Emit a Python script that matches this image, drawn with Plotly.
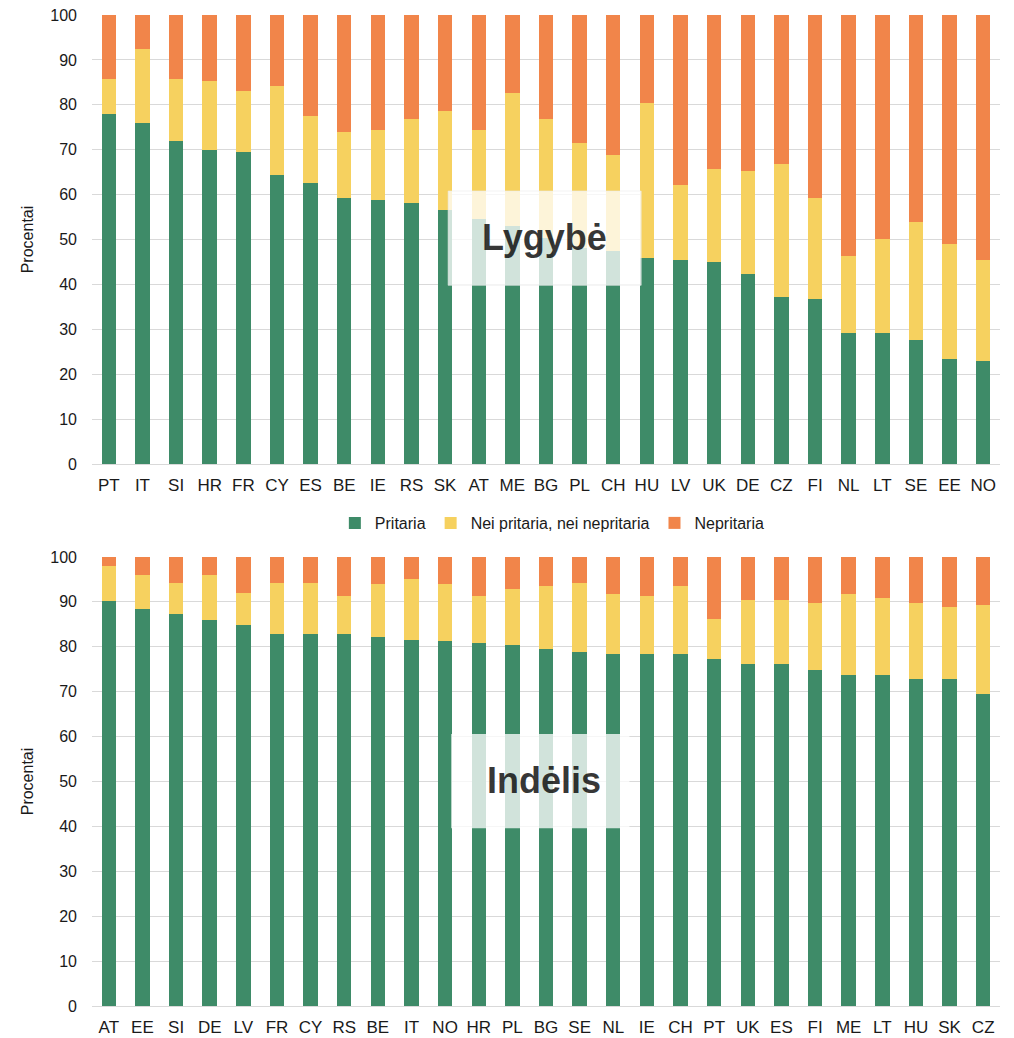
import plotly.graph_objects as go

# ---- Data: top chart "Lygybė" ----
top_countries = ["PT", "IT", "SI", "HR", "FR", "CY", "ES", "BE", "IE", "RS", "SK", "AT", "ME", "BG",
                 "PL", "CH", "HU", "LV", "UK", "DE", "CZ", "FI", "NL", "LT", "SE", "EE", "NO"]
top_pritaria = [77.9, 75.9, 71.9, 69.9, 69.5, 64.4, 62.5, 59.2, 58.8, 58.1, 56.5, 54.6, 53.0, 50.3,
                48.1, 47.4, 45.9, 45.4, 45.0, 42.3, 37.2, 36.7, 29.2, 29.2, 27.6, 23.3, 22.9]
top_nei = [7.9, 16.6, 13.9, 15.5, 13.5, 19.8, 15.0, 14.7, 15.5, 18.7, 22.1, 19.7, 29.6, 26.5,
           23.5, 21.4, 34.4, 16.7, 20.7, 22.9, 29.6, 22.6, 17.1, 21.0, 26.2, 25.7, 22.6]
top_nepritaria = [14.2, 7.5, 14.2, 14.6, 17.0, 15.8, 22.5, 26.1, 25.7, 23.2, 21.4, 25.7, 17.4, 23.2,
                  28.4, 31.2, 19.7, 37.9, 34.3, 34.8, 33.2, 40.7, 53.7, 49.8, 46.2, 51.0, 54.5]

# ---- Data: bottom chart "Indėlis" ----
bot_countries = ["AT", "EE", "SI", "DE", "LV", "FR", "CY", "RS", "BE", "IT", "NO", "HR", "PL", "BG",
                 "SE", "NL", "IE", "CH", "PT", "UK", "ES", "FI", "ME", "LT", "HU", "SK", "CZ"]
bot_pritaria = [90.3, 88.4, 87.2, 86.0, 84.8, 82.8, 82.8, 82.8, 82.1, 81.6, 81.2, 80.8, 80.4, 79.6,
                78.8, 78.4, 78.4, 78.4, 77.3, 76.1, 76.1, 74.9, 73.7, 73.7, 72.9, 72.9, 69.4]
bot_nei = [7.6, 7.6, 6.9, 10.0, 7.2, 11.3, 11.3, 8.4, 11.9, 13.6, 12.8, 10.4, 12.4, 14.0,
           15.5, 13.3, 12.8, 15.2, 8.8, 14.3, 14.3, 14.8, 18.0, 17.1, 16.8, 15.9, 19.8]
bot_nepritaria = [2.1, 4.0, 5.9, 4.0, 8.0, 5.9, 5.9, 8.8, 6.0, 4.8, 6.0, 8.8, 7.2, 6.4,
                  5.7, 8.3, 8.8, 6.4, 13.9, 9.6, 9.6, 10.3, 8.3, 9.2, 10.3, 11.2, 10.8]

series_names = ["Pritaria", "Nei pritaria, nei nepritaria", "Nepritaria"]
colors = ["#3e8b68", "#f6d15f", "#f1854a"]

FONT = "Liberation Sans, Arial, Helvetica, sans-serif"
TXT = "#1a1a1a"

fig = go.Figure()
for i, (name, vals) in enumerate(zip(series_names, [top_pritaria, top_nei, top_nepritaria])):
    fig.add_trace(go.Bar(x=top_countries, y=vals, name=name, marker=dict(color=colors[i], line=dict(width=0)),
                         xaxis="x", yaxis="y", legendgroup=name, showlegend=True))
for i, (name, vals) in enumerate(zip(series_names, [bot_pritaria, bot_nei, bot_nepritaria])):
    fig.add_trace(go.Bar(x=bot_countries, y=vals, name=name, marker=dict(color=colors[i], line=dict(width=0)),
                         xaxis="x2", yaxis="y2", legendgroup=name, showlegend=False))

yax = dict(range=[0, 100], dtick=10, showgrid=True, gridcolor="#d9d9d9", gridwidth=1.3,
           zeroline=False, showline=False, tickfont=dict(size=16, color=TXT, family=FONT),
           ticklabelstandoff=14, automargin=False, ticklabeloverflow="allow",
           title=dict(text="Procentai", font=dict(size=16, color=TXT, family=FONT), standoff=12))
xax = dict(type="category", showgrid=False, showline=True, linecolor="#d9d9d9", linewidth=1.3,
           tickfont=dict(size=17, color=TXT, family=FONT), ticklabelstandoff=5, range=[-0.5, 26.5],
           automargin=False, ticklabeloverflow="allow")

fig.update_layout(
    width=1006, height=1030,
    barmode="stack", bargap=0.57,
    plot_bgcolor="white", paper_bgcolor="white",
    margin=dict(l=84, r=14, t=7, b=32, autoexpand=False),
    font=dict(family=FONT, color=TXT),
    xaxis=dict(xax, domain=[0, 1], anchor="y"),
    yaxis=dict(yax, domain=[0.5469, 1], anchor="x"),
    xaxis2=dict(xax, domain=[0, 1], anchor="y2"),
    yaxis2=dict(yax, domain=[0, 0.4531], anchor="x2"),
    legend=dict(orientation="h", x=0.507, xanchor="center", y=0.4874, yanchor="middle",
                font=dict(size=16, color=TXT, family=FONT), traceorder="normal"),
    showlegend=True,
)

# semi-transparent label boxes
fig.add_shape(type="rect", xref="x", yref="y", x0=10.09, x1=15.83, y0=39.8, y1=60.8,
              fillcolor="rgba(255,255,255,0.76)", line=dict(width=1, color="rgba(235,235,235,0.6)"), layer="above")
fig.add_shape(type="rect", xref="x2", yref="y2", x0=10.18, x1=15.48, y0=39.6, y1=60.6,
              fillcolor="rgba(255,255,255,0.76)", line=dict(width=0), layer="above")
fig.add_annotation(xref="x", yref="y", x=12.97, y=50.5, text="<b>Lygybė</b>", showarrow=False,
                   font=dict(size=36, color="rgba(0,0,0,0.78)", family=FONT))
fig.add_annotation(xref="x2", yref="y2", x=12.95, y=50.3, text="<b>Indėlis</b>", showarrow=False,
                   font=dict(size=36, color="rgba(0,0,0,0.78)", family=FONT))

fig.write_html("out.html")
